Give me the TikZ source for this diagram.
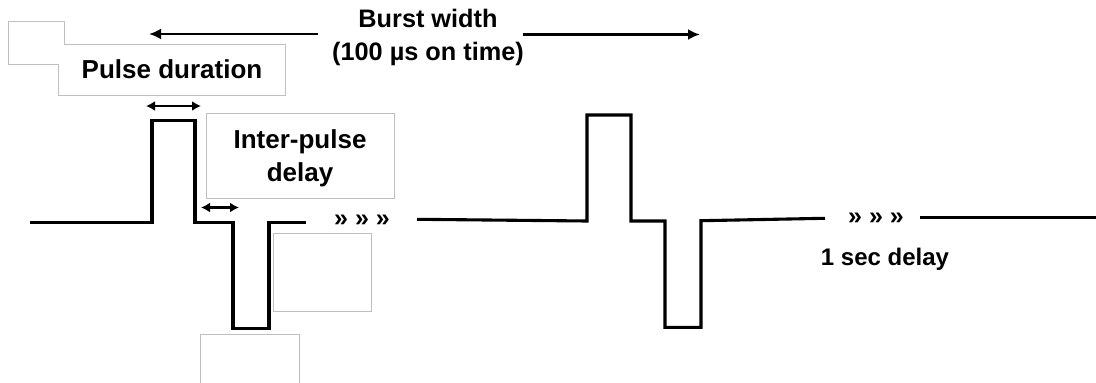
\documentclass[tikz,border=0pt]{standalone}
\usepackage{fontspec}
\setmainfont{Liberation Sans}
\usetikzlibrary{arrows.meta}

\tikzset{
  wave/.style={line width=3.1pt, line join=miter, black},
  frame/.style={draw=black!25, line width=0.9pt, fill=white},
  label/.style={font=\bfseries\fontsize{24}{33}\selectfont, inner sep=0pt, anchor=base, align=center},
  biglabel/.style={label, font=\bfseries\fontsize{26}{33}\selectfont},
  chev/.style={font=\bfseries\fontsize{25}{33}\selectfont, inner sep=0pt},
  span/.style={line width=2.9pt, {Latex[length=9pt,width=10pt]}-{Latex[length=9pt,width=10pt]}},
  oneway/.style={line width=2.9pt, -{Latex[length=12pt,width=11pt]}}
}

\begin{document}
\begin{tikzpicture}[x=1pt, y=-1pt]
  \useasboundingbox (0,0) rectangle (1096,383);

  % outline frames
  \draw[frame] (8,21) -- (64,21) -- (64,44) -- (285,44) -- (285,95)
               -- (58,95) -- (58,64) -- (8,64) -- cycle;
  \draw[frame] (206,113) rectangle (394,198);
  \draw[frame] (273,233) rectangle (371,311);
  \draw[frame] (200,334) rectangle (299,390);

  % first biphasic pulse
  \draw[wave] (30,222.7) -- (152,222.7) -- (152,120.7) -- (195,120.7)
              -- (195,222.7) -- (233,222.7) -- (233,328.7) -- (269,328.7)
              -- (269,222.7) -- (306,222.7);

  % second biphasic pulse
  \draw[wave] (417,219.3) -- (587,221) -- (587,115) -- (631,115)
              -- (631,221) -- (665,221) -- (665,327.3) -- (701,327.3)
              -- (701,220.7) -- (825,218.3);
  \draw[wave] (920,217.7) -- (1096,217.7);

  % continuation marks
  \node[chev] (gap1) at (362,221) {» » »};
  \node[chev] (gap2) at (876,219) {» » »};

  % texts (base anchor sits on the last line)
  \node[label, font=\bfseries\fontsize{25.3}{33}\selectfont] (burst) at (428,60) {Burst width\\(100 µs on time)};
  \node[biglabel] (pulse) at (172,78) {Pulse duration};
  \node[biglabel] (inter) at (300,181) {Inter-pulse\\delay};
  \node[label] (sec) at (885,265) {1 sec delay};

  % dimension arrows
  \coordinate (bwL) at (149,34);
  \coordinate (bwLs) at (318,34);
  \coordinate (bwRs) at (523,34.5);
  \coordinate (bwR) at (700,34.5);
  \draw[oneway] (bwLs) -- (bwL);
  \draw[oneway] (bwRs) -- (bwR);

  \coordinate (pdL) at (146,106);
  \coordinate (pdR) at (201,106);
  \draw[span] (pdL) -- (pdR);

  \coordinate (ipL) at (201,207.5);
  \coordinate (ipR) at (239,207.5);
  \draw[span] (ipL) -- (ipR);
\end{tikzpicture}
\end{document}
